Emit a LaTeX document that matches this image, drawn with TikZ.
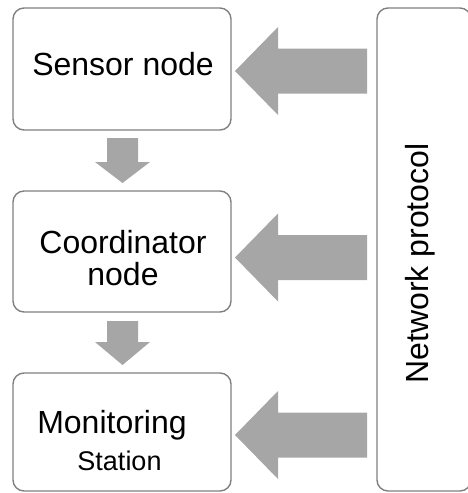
\documentclass[tikz,border=0pt]{standalone}
\usepackage{fontspec}
\setmainfont{Liberation Sans}
\begin{document}
\begin{tikzpicture}[x=1pt,y=-1pt,
  box/.style={draw=black!50,line width=1.4pt,rounded corners=11pt,fill=white},
  arr/.style={fill=black!35,draw=none},
  lbl/.style={anchor=base,inner sep=0pt,font=\fontsize{32}{36}\selectfont}]
\useasboundingbox (0,0) rectangle (468,493);
% boxes
\draw[box] (13,8) rectangle (231,130) coordinate (sensorBR);
\draw[box] (13,191) rectangle (231,312);
\draw[box] (13,373) rectangle (231,491);
\draw[box] (377,8) rectangle (471,491);
% labels
\node[lbl] (sensor) at (123,75) {Sensor node};
\node[lbl] (coord1) at (123,253) {Coordinator};
\node[lbl] (coord2) at (123,285) {node};
\node[lbl] (mon1) at (112,433) {Monitoring};
\node[lbl,font=\fontsize{27}{30}\selectfont] (mon2) at (119.5,470) {Station};
\node[lbl,rotate=90] (net) at (428,263.5) {Network protocol};
% horizontal arrows
\foreach \c in {71,257.5,435}{
  \fill[arr] (235,\c) -- (278,\c-44) -- (278,\c-22.5) -- (367,\c-22.5)
    -- (367,\c+22.5) -- (278,\c+22.5) -- (278,\c+44) -- cycle;
}
% vertical arrows
\foreach \t/\b/\p in {138/162/183,321/342/365}{
  \fill[arr] (107,\t) -- (138,\t) -- (138,\b) -- (150,\b) -- (122.5,\p)
    -- (95,\b) -- (107,\b) -- cycle;
}
\end{tikzpicture}
\end{document}
